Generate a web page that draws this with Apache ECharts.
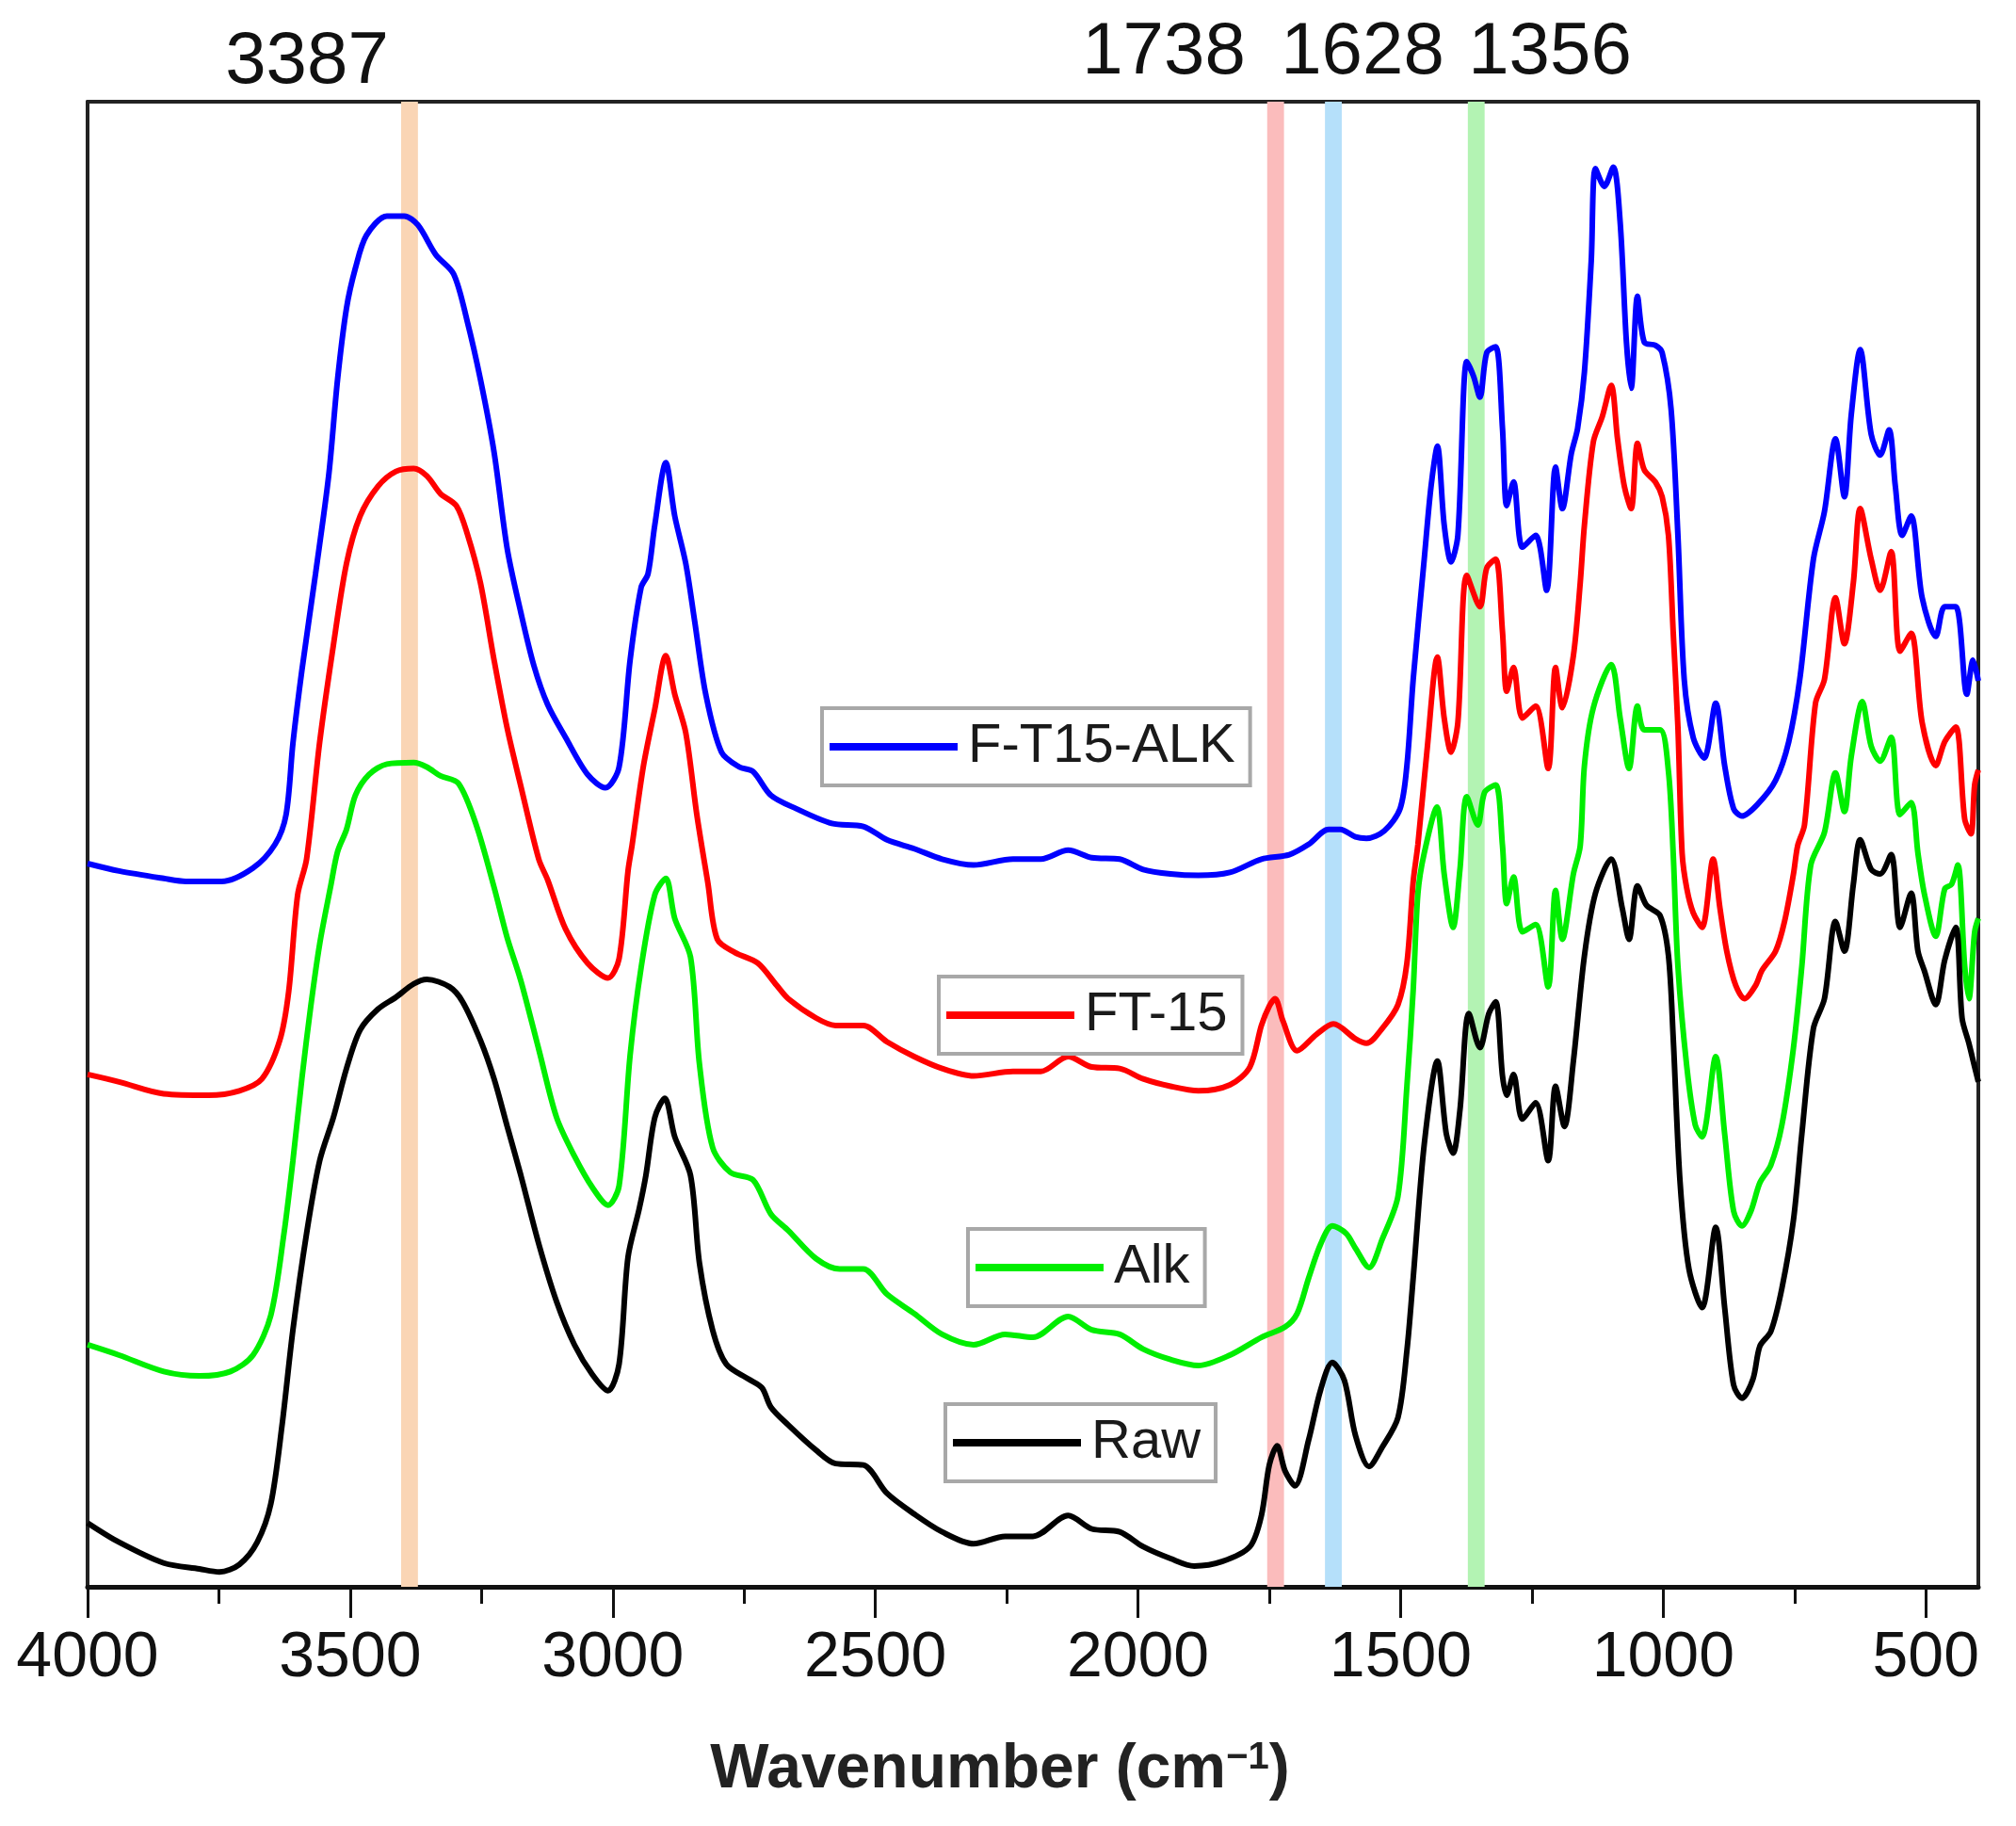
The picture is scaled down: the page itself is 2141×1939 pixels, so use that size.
<!DOCTYPE html>
<html>
<head>
<meta charset="utf-8">
<script src="https://cdn.jsdelivr.net/npm/echarts@6/dist/echarts.min.js"></script>
<style>
html,body{margin:0;padding:0;background:#fff;}
#chart{width:2141px;height:1939px;}
</style>
</head>
<body>
<div id="chart"></div>
<script>
// ---- data (wavenumber cm-1, relative transmittance in % of plot height) ----
const seriesNames = ['F-T15-ALK', 'FT-15', 'Alk', 'Raw'];
const seriesColors = ['#0000ff', '#ff0000', '#00ee00', '#000000'];

const ft15AlkData = [[4000,48.7],[3940,48.2],[3855,47.7],[3813,47.5],[3745,47.5],[3685,48.4],[3643,50.0],[3622,52.0],[3609,56.8],[3592,61.7],[3566,68.2],[3541,74.8],[3524,81.3],[3507,86.1],[3490,88.8],[3469,91.0],[3430,92.3],[3397,92.3],[3371,91.7],[3337,89.7],[3303,88.4],[3277,85.2],[3252,81.3],[3226,76.4],[3201,69.9],[3175,65.6],[3150,62.0],[3124,59.4],[3090,57.2],[3048,54.7],[3014,53.8],[2988,55.2],[2967,62.4],[2946,67.3],[2933,68.2],[2920,71.5],[2899,75.7],[2882,72.1],[2861,68.9],[2844,65.0],[2823,60.1],[2793,56.2],[2759,55.2],[2733,54.9],[2699,53.3],[2651,52.4],[2583,51.4],[2523,51.2],[2478,50.3],[2426,49.7],[2373,49.0],[2313,48.6],[2238,49.0],[2185,49.0],[2133,49.6],[2088,49.1],[2035,49.0],[1990,48.3],[1938,48.0],[1885,47.9],[1825,48.1],[1765,49.0],[1712,49.3],[1675,50.0],[1637,51.0],[1615,51.0],[1586,50.5],[1565,50.4],[1531,50.9],[1501,52.4],[1488,55.3],[1476,61.1],[1455,69.2],[1442,74.1],[1430,76.8],[1417,71.5],[1404,69.0],[1391,70.8],[1374,82.5],[1361,81.5],[1349,80.1],[1336,83.1],[1319,83.5],[1306,78.0],[1298,72.8],[1285,74.4],[1268,70.0],[1243,70.8],[1222,67.1],[1205,75.4],[1192,72.6],[1175,76.3],[1163,78.0],[1150,81.8],[1137,89.3],[1129,95.5],[1112,94.3],[1095,95.6],[1082,91.9],[1070,83.8],[1061,80.7],[1049,86.9],[1036,83.8],[1015,83.6],[1002,83.1],[985,79.3],[972,70.8],[960,61.1],[943,57.2],[922,55.8],[900,59.5],[883,55.3],[866,52.4],[850,51.9],[820,52.7],[786,54.3],[761,56.9],[740,61.1],[714,69.2],[693,72.4],[672,77.3],[655,73.4],[642,78.9],[625,83.3],[604,77.6],[587,76.2],[570,77.9],[558,74.1],[545,70.8],[528,72.1],[507,66.6],[481,64.0],[464,66.0],[443,66.0],[422,60.1],[410,62.4],[400,61.0]];

const ft15Data = [[4000,34.5],[3940,34.0],[3855,33.2],[3770,33.1],[3711,33.4],[3668,34.2],[3634,36.8],[3617,40.1],[3600,46.6],[3583,49.0],[3558,56.9],[3532,63.4],[3507,68.9],[3481,72.1],[3447,74.1],[3413,75.1],[3379,75.3],[3354,74.8],[3328,73.6],[3298,72.8],[3277,70.9],[3252,67.6],[3226,62.4],[3201,57.8],[3175,53.9],[3141,49.0],[3124,47.6],[3090,44.3],[3048,42.0],[3009,41.0],[2988,42.3],[2971,48.2],[2963,50.0],[2942,55.2],[2920,59.1],[2899,62.7],[2882,60.1],[2861,57.5],[2840,52.0],[2819,47.4],[2801,43.6],[2767,42.7],[2724,42.0],[2688,40.5],[2666,39.6],[2613,38.3],[2576,37.8],[2523,37.8],[2478,36.7],[2426,35.7],[2373,34.9],[2313,34.4],[2238,34.7],[2185,34.7],[2133,35.7],[2088,35.0],[2035,34.9],[1990,34.2],[1938,33.7],[1885,33.4],[1825,33.8],[1787,35.0],[1765,37.8],[1750,39.1],[1739,39.6],[1724,38.1],[1697,36.1],[1660,37.2],[1628,37.9],[1586,36.9],[1565,36.6],[1535,37.6],[1505,39.2],[1488,42.0],[1476,47.5],[1467,50.0],[1450,56.2],[1430,62.6],[1417,58.5],[1404,56.2],[1391,58.2],[1374,68.1],[1349,66.0],[1336,68.6],[1319,69.2],[1306,64.3],[1298,60.3],[1285,61.9],[1268,58.5],[1243,59.3],[1219,55.1],[1205,61.9],[1192,59.2],[1171,62.7],[1158,67.6],[1150,71.5],[1133,77.1],[1116,78.8],[1099,80.9],[1087,77.3],[1074,74.1],[1061,72.6],[1049,77.0],[1036,75.2],[1015,74.4],[1002,73.4],[990,70.8],[981,64.3],[972,57.9],[964,49.4],[955,47.0],[943,45.4],[926,44.4],[905,49.0],[892,45.7],[879,42.8],[862,40.5],[845,39.6],[824,40.5],[812,41.5],[786,42.8],[769,44.8],[752,48.0],[744,49.9],[731,51.3],[710,59.5],[693,61.1],[672,66.6],[655,63.5],[638,67.6],[625,72.6],[604,69.2],[587,67.1],[566,69.7],[549,63.0],[528,64.2],[507,58.2],[481,55.3],[464,56.9],[443,57.9],[426,51.7],[414,50.7],[407,54.0],[400,55.0]];

const alkData = [[4000,16.3],[3940,15.6],[3855,14.5],[3787,14.2],[3728,14.5],[3685,15.6],[3651,18.3],[3626,23.8],[3609,28.7],[3592,34.2],[3575,39.1],[3558,43.3],[3537,47.2],[3524,49.5],[3507,51.0],[3490,53.3],[3464,54.7],[3430,55.4],[3379,55.5],[3354,55.2],[3328,54.6],[3294,54.1],[3260,51.3],[3226,47.1],[3201,43.7],[3175,40.8],[3141,36.2],[3107,31.6],[3073,29.0],[3039,26.9],[3009,25.7],[2988,27.0],[2967,35.8],[2946,41.7],[2920,46.6],[2899,47.7],[2882,45.0],[2852,42.4],[2835,35.2],[2810,29.6],[2776,27.9],[2733,27.4],[2699,25.1],[2666,24.0],[2613,22.1],[2568,21.4],[2523,21.4],[2478,19.7],[2426,18.4],[2373,17.0],[2313,16.3],[2253,17.0],[2200,16.8],[2133,18.2],[2088,17.3],[2035,17.0],[1990,16.0],[1938,15.3],[1885,14.9],[1825,15.6],[1765,16.8],[1720,17.5],[1697,18.4],[1675,20.8],[1652,23.1],[1630,24.3],[1604,23.8],[1586,22.8],[1560,21.5],[1535,23.4],[1505,26.3],[1488,33.7],[1476,40.2],[1467,46.7],[1455,49.4],[1431,52.5],[1417,48.0],[1400,44.4],[1387,48.3],[1374,53.2],[1353,51.3],[1340,53.5],[1319,54.0],[1306,49.9],[1298,46.0],[1285,47.8],[1268,44.1],[1243,44.6],[1219,40.4],[1205,46.9],[1192,43.6],[1171,48.0],[1158,49.9],[1150,55.3],[1133,59.2],[1099,62.1],[1082,58.5],[1065,55.1],[1049,59.3],[1036,57.7],[1006,57.7],[990,54.9],[981,49.4],[972,41.8],[955,35.0],[939,31.1],[926,30.3],[900,35.7],[883,30.5],[866,25.3],[850,24.3],[833,25.3],[816,27.2],[795,28.4],[774,31.1],[752,36.3],[736,41.8],[719,48.6],[693,50.8],[672,54.8],[655,52.2],[642,55.9],[621,59.6],[604,56.6],[587,55.6],[566,57.2],[549,52.0],[528,52.8],[515,49.4],[503,46.7],[481,43.8],[464,47.0],[451,47.3],[439,48.6],[426,41.8],[418,39.6],[407,44.1],[400,45.0]];

const rawData = [[4000,4.3],[3940,3.0],[3855,1.6],[3787,1.2],[3749,1.0],[3711,1.5],[3677,3.0],[3651,5.6],[3630,10.8],[3609,17.3],[3583,23.8],[3558,28.7],[3532,31.6],[3507,34.9],[3481,37.5],[3447,38.9],[3413,39.7],[3379,40.6],[3354,40.9],[3311,40.4],[3286,39.4],[3252,36.8],[3226,34.2],[3201,31.0],[3175,27.7],[3141,23.1],[3107,19.2],[3073,16.3],[3039,14.3],[3009,13.2],[2988,15.0],[2971,22.2],[2950,25.4],[2937,27.7],[2920,31.6],[2901,32.9],[2882,30.3],[2852,27.7],[2835,21.8],[2810,17.3],[2784,15.0],[2742,14.0],[2716,13.4],[2699,12.1],[2666,10.9],[2613,9.2],[2576,8.3],[2523,8.2],[2478,6.3],[2426,4.9],[2373,3.7],[2313,2.9],[2253,3.4],[2200,3.4],[2133,4.8],[2088,3.9],[2035,3.7],[1990,2.7],[1938,1.9],[1893,1.4],[1840,1.7],[1787,2.7],[1765,4.8],[1750,8.2],[1735,9.5],[1720,7.8],[1701,6.8],[1675,9.9],[1652,13.3],[1630,15.1],[1607,13.9],[1586,10.2],[1560,8.1],[1535,9.4],[1505,11.4],[1488,15.9],[1476,20.8],[1455,29.8],[1430,35.4],[1413,30.5],[1400,29.2],[1387,32.1],[1370,38.6],[1349,36.3],[1332,38.6],[1319,39.4],[1306,34.4],[1298,33.1],[1285,34.5],[1268,31.5],[1243,32.6],[1219,28.7],[1205,33.7],[1188,31.0],[1171,35.4],[1150,42.5],[1129,46.7],[1099,49.0],[1078,45.7],[1065,43.6],[1049,47.2],[1032,45.9],[1006,45.2],[990,42.5],[981,37.0],[968,27.3],[951,21.4],[926,18.8],[900,24.2],[883,18.8],[866,13.6],[850,12.7],[829,14.0],[816,16.2],[795,17.2],[774,20.1],[752,24.7],[736,30.5],[714,37.6],[693,39.6],[672,44.8],[655,42.8],[638,47.3],[625,50.3],[604,48.3],[587,48.0],[566,49.3],[549,44.4],[528,46.7],[515,42.8],[503,41.5],[481,39.2],[464,42.2],[443,44.4],[431,38.3],[418,36.6],[407,35.0],[400,34.0]];

const bandCenters = [3387, 1738, 1628, 1356];
const bandLabels = ['3387', '1738', '1628', '1356'];
const majorTicks = [500, 1000, 1500, 2000, 2500, 3000, 3500, 4000];
const minorTicks = [750, 1250, 1750, 2250, 2750, 3250, 3750];

// ---- styling ----
const bandColors = ['#fad5b5', '#fbbcbc', '#b5e0fa', '#b3f3b3'];
const bandHalfWidth = 16;
const labelPos = [[326, 66], [1236, 56], [1447, 56], [1646, 56]];
const legendPos = [[873, 752], [997, 1037], [1028, 1305], [1004, 1491]];
const FONT = '"Liberation Sans", Arial, sans-serif';

const chart = echarts.init(document.getElementById('chart'), null, {renderer: 'canvas'});

const allData = [ft15AlkData, ft15Data, alkData, rawData];

const lineSeries = seriesNames.map((n, i) => ({
  name: n,
  type: 'line',
  xAxisIndex: 0,
  yAxisIndex: 0,
  data: allData[i],
  showSymbol: false,
  smooth: 0.3,
  lineStyle: {color: seriesColors[i], width: 6},
  itemStyle: {color: seriesColors[i]},
  z: 3,
  silent: true
}));

const bandSeries = {
  name: 'bands',
  type: 'line',
  data: [],
  z: 1,
  silent: true,
  markArea: {
    silent: true,
    data: bandCenters.map((c, i) => [
      {xAxis: c + bandHalfWidth, itemStyle: {color: bandColors[i], opacity: 1}},
      {xAxis: c - bandHalfWidth}
    ])
  }
};

const legends = seriesNames.map((n, i) => ({
  data: [n],
  left: legendPos[i][0],
  top: legendPos[i][1],
  icon: 'rect',
  itemWidth: 136,
  itemHeight: 8,
  itemGap: 0,
  padding: [12, 16, 12, 8],
  borderColor: '#a8a8a8',
  borderWidth: 4,
  backgroundColor: '#ffffff',
  selectedMode: false,
  textStyle: {fontFamily: FONT, fontSize: 58, color: '#1a1a1a', padding: [0, 0, 0, 6]}
}));

const graphics = bandLabels.map((t, i) => ({
  type: 'text',
  x: labelPos[i][0],
  y: labelPos[i][1],
  style: {
    text: t,
    font: '78px ' + FONT,
    fill: '#111',
    textAlign: 'center',
    textVerticalAlign: 'middle'
  },
  z: 10
}));

const option = {
  backgroundColor: '#ffffff',
  animation: false,
  grid: {left: 93, right: 40, top: 108, bottom: 254, containLabel: false},
  legend: legends,
  graphic: graphics,
  xAxis: [
    {
      type: 'value', position: 'bottom', min: 400, max: 4000, inverse: true,
      axisLine: {show: true, onZero: false, lineStyle: {color: '#111', width: 5}},
      axisTick: {show: true, inside: false, length: 33, customValues: majorTicks, lineStyle: {color: '#111', width: 3}},
      axisLabel: {show: true, customValues: majorTicks, margin: 76, verticalAlign: 'middle',
                  formatter: v => String(v),
                  fontFamily: FONT, fontSize: 68, color: '#111'},
      splitLine: {show: false},
      name: 'Wavenumber (cm{sup|−1})',
      nameLocation: 'middle',
      nameGap: 195,
      nameTextStyle: {
        fontFamily: FONT, fontSize: 66, fontWeight: 'bold', color: '#222',
        verticalAlign: 'middle', padding: [0, 70, 0, 0],
        rich: {sup: {fontFamily: FONT, fontSize: 40, fontWeight: 'bold', color: '#222', verticalAlign: 'top', lineHeight: 66}}
      }
    },
    {
      type: 'value', position: 'bottom', min: 400, max: 4000, inverse: true,
      axisLine: {show: false},
      axisTick: {show: true, inside: false, length: 18, customValues: minorTicks, lineStyle: {color: '#111', width: 3}},
      axisLabel: {show: false},
      splitLine: {show: false}
    },
    {
      type: 'value', position: 'top', min: 400, max: 4000, inverse: true,
      axisLine: {show: true, onZero: false, lineStyle: {color: '#222', width: 4}},
      axisTick: {show: false}, axisLabel: {show: false}, splitLine: {show: false}
    }
  ],
  yAxis: [
    {
      type: 'value', position: 'left', min: 0, max: 100,
      axisLine: {show: true, onZero: false, lineStyle: {color: '#222', width: 4}},
      axisTick: {show: false}, axisLabel: {show: false}, splitLine: {show: false}
    },
    {
      type: 'value', position: 'right', min: 0, max: 100,
      axisLine: {show: true, onZero: false, lineStyle: {color: '#222', width: 4}},
      axisTick: {show: false}, axisLabel: {show: false}, splitLine: {show: false}
    }
  ],
  series: [bandSeries].concat(lineSeries)
};

chart.setOption(option);
</script>
</body>
</html>
